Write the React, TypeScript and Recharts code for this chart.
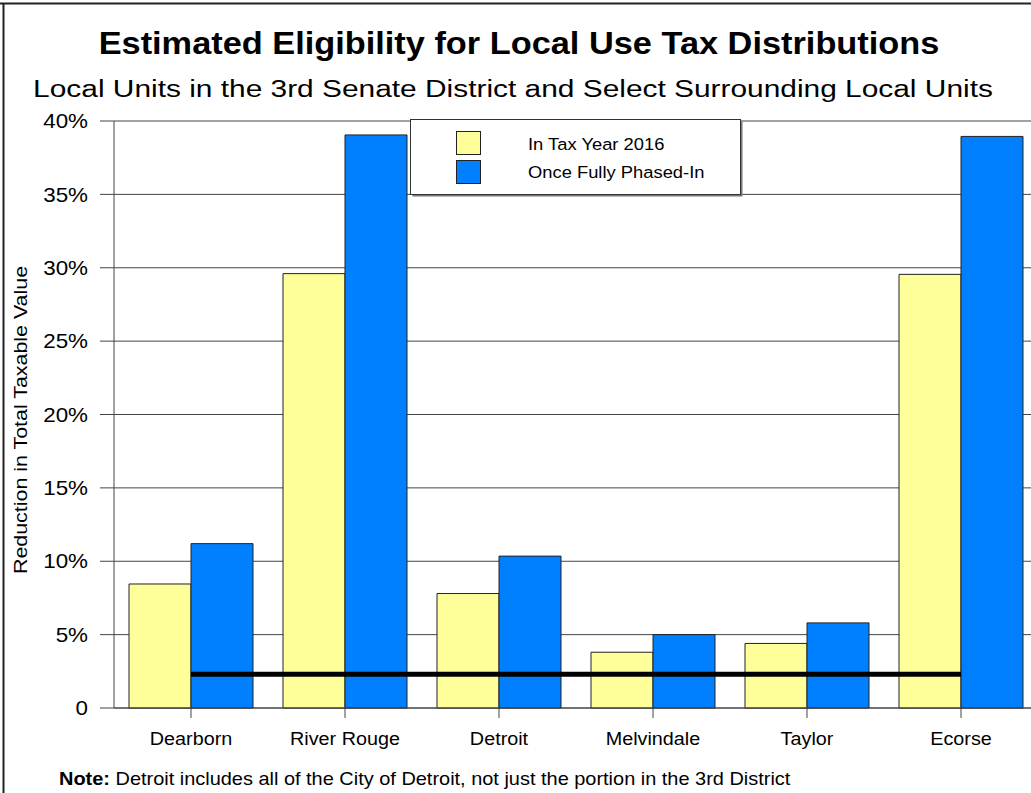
import {
  ComposedChart,
  Bar,
  Line,
  XAxis,
  YAxis,
  CartesianGrid,
  Legend,
} from 'recharts';

// values (percent reduction in taxable value)
const units = ['Dearborn', 'River Rouge', 'Detroit', 'Melvindale', 'Taylor', 'Ecorse'];
const taxYear2016 = [8.45, 29.6, 7.8, 3.8, 4.4, 29.55];
const fullyPhasedIn = [11.2, 39.05, 10.35, 5.0, 5.8, 38.95];
const threshold = [2.3, 2.3, 2.3, 2.3, 2.3, 2.3];
const yTicks = [0, 5, 10, 15, 20, 25, 30, 35, 40];

const seriesNames = ['In Tax Year 2016', 'Once Fully Phased-In'];
const colors = ['#FFFF99', '#0080FF'];

const FONT = '"Liberation Sans", Arial, sans-serif';

const chartData = units.map((name, i) => ({
  name,
  y2016: taxYear2016[i],
  full: fullyPhasedIn[i],
  line: threshold[i],
}));

// stretched text helper, keeps text a bit wider like the original
const stretch = (x: number, y: number, s: number) =>
  `translate(${x},${y}) scale(${s},1) translate(${-x},${-y})`;

const YTick = (props: any) => {
  const { x, y, payload } = props;
  const label = payload.value === 0 ? '0' : `${payload.value}%`;
  return (
    <text
      x={x}
      y={y}
      dy="0.36em"
      textAnchor="end"
      fontFamily={FONT}
      fontSize={20}
      fill="#000"
      transform={stretch(x, y, 1.12)}
    >
      {label}
    </text>
  );
};

const XTick = (props: any) => {
  const { x, y, payload } = props;
  return (
    <text
      x={x}
      y={y + 25}
      textAnchor="middle"
      fontFamily={FONT}
      fontSize={18.5}
      fill="#000"
      transform={stretch(x, y + 25, 1.07)}
    >
      {payload.value}
    </text>
  );
};

const LegendBox = () => (
  <svg width={334} height={79} style={{ display: 'block' }}>
    <rect x={2.5} y={2.5} width={330} height={75} fill="#777" />
    <rect x={0.5} y={0.5} width={330} height={75} fill="#fff" stroke="#333" />
    {seriesNames.map((name, i) => (
      <g key={name}>
        <rect
          x={46.5}
          y={12.5 + i * 29}
          width={24}
          height={23}
          fill={colors[i]}
          stroke="#222"
        />
        <text
          x={118}
          y={31.5 + i * 28}
          fontFamily={FONT}
          fontSize={17}
          fill="#000"
          transform={stretch(118, 31.5 + i * 28, 1.08)}
        >
          {name}
        </text>
      </g>
    ))}
  </svg>
);

export default function App() {
  return (
    <div
      style={{
        position: 'fixed',
        left: 0,
        top: 0,
        width: 1031,
        height: 793,
        overflow: 'hidden',
        background: '#fff',
      }}
    >
      <div style={{ position: 'absolute', left: 0, top: 0 }}>
        <ComposedChart
          width={1050}
          height={793}
          data={chartData}
          margin={{ top: 121, right: 12, bottom: 45, left: 0 }}
          barCategoryGap={15}
          barGap={0}
        >
          <CartesianGrid vertical={false} stroke="#444" />
          <XAxis
            dataKey="name"
            height={40}
            tickSize={10}
            tick={<XTick />}
            stroke="#444"
            interval={0}
          />
          <YAxis
            width={114}
            domain={[0, 40]}
            ticks={yTicks}
            interval={0}
            tickSize={14}
            tickMargin={12}
            tick={<YTick />}
            stroke="#444"
          />
          <Legend
            layout="horizontal"
            verticalAlign="middle"
            align="center"
            content={() => <LegendBox />}
            wrapperStyle={{ position: 'absolute', left: 410, top: 119, width: 334, height: 79 }}
          />
          <Bar
            dataKey="y2016"
            name={seriesNames[0]}
            fill={colors[0]}
            stroke="#222"
            strokeWidth={1}
            isAnimationActive={false}
          />
          <Bar
            dataKey="full"
            name={seriesNames[1]}
            fill={colors[1]}
            stroke="#222"
            strokeWidth={1}
            isAnimationActive={false}
          />
          <Line
            dataKey="line"
            stroke="#000"
            strokeWidth={5}
            dot={false}
            activeDot={false}
            legendType="none"
            isAnimationActive={false}
          />
        </ComposedChart>
      </div>

      {/* title block, y label, note and the frame */}
      <svg
        width={1031}
        height={793}
        style={{ position: 'absolute', left: 0, top: 0, pointerEvents: 'none' }}
      >
        <line x1={0} y1={3.5} x2={1031} y2={3.5} stroke="#222" strokeWidth={2} />
        <line x1={3.5} y1={3} x2={3.5} y2={793} stroke="#222" strokeWidth={2} />
        <text
          x={519}
          y={54}
          textAnchor="middle"
          fontFamily={FONT}
          fontWeight="bold"
          fontSize={31}
          transform={stretch(519, 54, 1.108)}
        >
          Estimated Eligibility for Local Use Tax Distributions
        </text>
        <text
          x={513}
          y={97}
          textAnchor="middle"
          fontFamily={FONT}
          fontSize={24.5}
          transform={stretch(513, 97, 1.22)}
        >
          Local Units in the 3rd Senate District and Select Surrounding Local Units
        </text>
        <text
          x={27}
          y={420}
          textAnchor="middle"
          fontFamily={FONT}
          fontSize={18}
          transform={`rotate(-90, 27, 420) ${stretch(27, 420, 1.19)}`}
        >
          Reduction in Total Taxable Value
        </text>
        <text
          x={59}
          y={785}
          fontFamily={FONT}
          fontSize={19}
          transform={stretch(59, 785, 1.05)}
        >
          <tspan fontWeight="bold">Note:</tspan> Detroit includes all of the City of Detroit, not just
          the portion in the 3rd District
        </text>
      </svg>
    </div>
  );
}
